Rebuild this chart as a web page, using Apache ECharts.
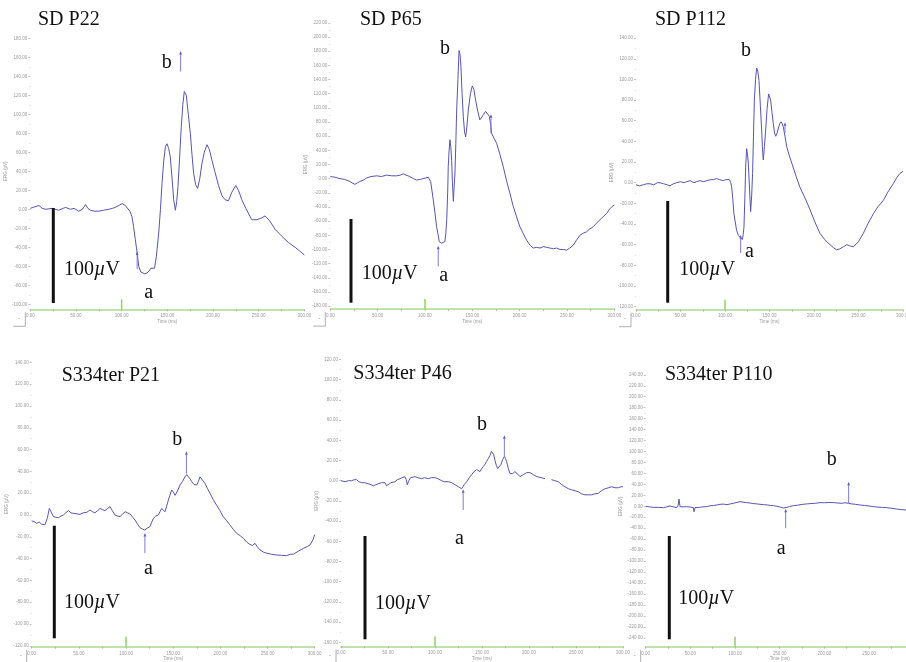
<!DOCTYPE html>
<html>
<head>
<meta charset="utf-8">
<script src="https://cdn.jsdelivr.net/npm/echarts@6/dist/echarts.min.js"></script>
<style>
  html, body { margin: 0; padding: 0; background: #fff; }
  #chart { width: 906px; height: 662px; }
</style>
</head>
<body>
<div id="chart"></div>
<script>
// ---------------- DATA ----------------
const panelTitles = ['SD P22', 'SD P65', 'SD P112', 'S334ter P21', 'S334ter P46', 'S334ter P110'];
const timeTicks = [0, 50, 100, 150, 200, 250, 300];   // ms
const yMins = [-100, -180, -120, -120, -160, -240];    // µV, lowest tick label
const yMaxs = [180, 220, 140, 140, 120, 240];          // µV, highest tick label
const yStep = 20;
const stimulusMs = 100;

// ERG traces: [time ms, amplitude µV]
const traceSDP22 = [[0,1],[3,2],[9.5,4],[13,1],[17,0],[24,1],[31,-1],[36,1],[38.6,2],[44,0],[48,1],[53,-2],[57,0],[60.5,5],[63,1],[66,-1],[70,-2],[75,-2],[80,-1],[86,0],[90,1],[93,2],[97,4],[100.5,6],[104,4],[106,2],[109,-2],[111.4,-8],[113,-18],[115,-32],[117,-46],[118.7,-60],[121,-66],[123,-68],[125.5,-68],[127.8,-67],[130,-65],[132,-62],[134,-63],[136,-62],[138,-50],[140.6,-25],[142.5,0],[144.2,27],[146,50],[147.9,66],[149.7,69],[151.5,64],[153.3,55],[155,35],[157,10],[158.8,-1],[160.3,8],[161.7,24],[163.5,55],[165.3,87],[167,110],[168.6,124],[170.8,120],[173,100],[175.2,80],[177,58],[178.8,38],[181,26],[183.2,22],[185.5,32],[187.9,48],[190.5,60],[193.4,68],[196,63],[198.8,52],[202,40],[206.1,25],[210,14],[213.4,10],[217,9],[220.7,18],[225,25],[228,20],[231.6,10],[236,1],[242.5,-11],[248,-11],[253.5,-9],[257,-7],[262,-12],[268,-21],[275,-28],[282.6,-35],[290,-40],[295,-44],[300,-48]];
const traceSDP65 = [[0,3],[5,2],[10.2,0],[15,-1],[20.8,-4],[23,-6],[26,-8],[28.5,-6],[31.3,-4],[35,-2],[38.4,1],[43,3],[49,4],[54,3],[59.5,5],[65,4],[70,4],[74,5],[77,7],[80,5],[84,3],[88,0],[91,-2],[95,-1],[98,0],[101,1],[103.5,2],[106,-4],[108.8,-30],[110.5,-48],[112.3,-68],[114,-80],[115.1,-89],[117.6,-91],[119.5,-90],[121,-89],[122,-78],[123,-58],[124,-20],[124.6,17],[125.5,40],[126.4,55],[127.3,45],[128.2,26],[129,-5],[130,-32],[130.8,-12],[131.7,8],[132.6,50],[133.5,97],[134.8,140],[136,181],[137,176],[138,158],[139.2,120],[140.5,88],[141.8,66],[143,59],[144.4,75],[145.8,97],[148,120],[150,131],[151.7,126],[153.5,111],[155.8,95],[158,83],[160,85],[162,91],[164,95],[166,93],[168,88],[169.5,75],[170.4,64],[173,57],[175.7,50],[179,35],[182.7,17],[186,-2],[189.8,-21],[193,-38],[196.8,-54],[200,-67],[204,-78],[207.4,-87],[211,-94],[214.4,-98],[218,-97],[221.5,-98],[225,-96],[228.5,-97],[232,-98],[235.6,-99],[239,-98],[242.6,-100],[246,-100],[249.6,-101],[253,-98],[256.7,-94],[260,-87],[263.7,-80],[267,-77],[270.8,-75],[274,-71],[277.8,-68],[281,-63],[284.9,-58],[288,-54],[292,-49],[295,-43],[297.2,-40],[300,-37]];
const traceSDP112 = [[0,-2],[4,-3],[8.2,-2],[12,-1],[15.7,-1],[20,-2],[24,0],[27,0],[31,-1],[35,-2],[38.2,-3],[42,-1],[45.7,0],[50,1],[54,0],[57,1],[61,2],[65,0],[68,1],[72,2],[76,1],[79.4,2],[84,3],[87,3],[90.6,4],[94,3],[98,2],[101,3],[104.9,3],[106.5,0],[107.5,-4],[108.7,-15],[110,-30],[111.5,-38],[113,-46],[115,-51],[116.9,-53],[119.5,-55],[120.5,-50],[121.3,-43],[122.3,-15],[123.2,15],[124.3,33],[125.2,28],[126.2,19],[127.5,-5],[128.8,-28],[130,-12],[131,9],[132,45],[133,80],[134.3,100],[135.6,111],[136.9,108],[138.2,99],[139.7,75],[141.2,51],[142,35],[143,22],[144.3,35],[145.7,51],[147.3,72],[149,86],[150.2,85],[151.3,80],[152.8,68],[154.3,57],[155.7,48],[157,45],[158.5,48],[160,53],[161.5,57],[163,59],[164.3,57],[165.5,54],[167.4,45],[169.3,35],[172,27],[175,19],[180,6],[184,-4],[190,-15],[195.5,-26],[201,-38],[206.7,-49],[212,-55],[218,-60],[222,-63],[225.5,-65],[229,-64],[233,-62],[236.7,-60],[240,-61],[244.2,-62],[250,-57],[255.4,-49],[261,-39],[266.7,-30],[272,-23],[278,-17],[283,-9],[289,-1],[293,5],[296.6,9],[300,11]];
const traceS334P21 = [[0,-5.5],[2.5,-6],[5.3,-7.6],[8,-6.5],[10.6,-8.5],[14,-9],[16.5,-3],[18.7,6],[20.5,3],[23,-1.5],[25.5,-2],[28.3,-2.5],[31,-1],[33.6,0],[36,2],[38.9,4],[41.5,2],[44.2,1.5],[48,1],[51.2,0.6],[54.5,2],[58.3,2.4],[61.8,4.6],[64.5,3],[67,2],[70,4],[72.4,6],[75,5],[77.7,4],[80.5,6],[83,7.6],[85.5,4],[88.3,0],[91,-1],[93.6,-1.5],[96.5,1],[99,3],[101.5,2],[104,1],[107,-2],[109.5,-4.6],[112,-8],[114.8,-11.6],[117.5,-13],[120,-13.8],[122.5,-12],[125.4,-10.7],[127,-7],[129,-3],[131.5,-1],[134.3,0],[136,3],[137.8,6],[139.5,5],[141.3,3],[143,8],[144.9,13.8],[146.5,18],[148.4,23],[150.2,21],[152,18],[154.5,22],[157.2,27.5],[160,31],[162.5,35],[164.3,37],[166,36.7],[168,33],[169.6,30.6],[172,28],[175,27.5],[176.8,31],[178.4,35],[181,32],[183.7,29],[186.5,24],[189,20],[192.5,14],[196,9],[199.5,4],[203,-1.5],[206.5,-5],[210,-9],[213.5,-13],[217.3,-16.8],[221,-19],[224.4,-21.4],[228,-25],[231.4,-27],[234,-28],[236.7,-26],[239,-29],[242,-32],[245.5,-34],[249,-35],[254,-36],[259.7,-36.7],[265,-37],[270.3,-37.3],[274,-36],[277.4,-36],[283,-33],[288,-30.6],[292,-29],[295,-27.5],[298,-23],[300,-18]];
const traceS334P46 = [[0,0],[2,0],[4.3,-1],[8,0],[11.3,0],[14,1],[16.7,1],[19,-1],[22,-2],[25,-2],[29,-3],[32,-4],[34.4,-5],[37,-4],[39.7,-3],[43,-2],[46.8,-2],[48.5,-5],[50.4,-4],[53,-2],[57.4,-1],[60,1],[62.8,2],[65,3],[68,4],[69.5,1],[70.5,-4],[71.6,-1],[74,3],[78.7,4],[82,3],[85.8,2],[89,3],[92.9,2],[96,3],[100,3],[103,2],[107,0],[110,-1],[114.2,-1],[118,-2],[121.3,-4],[125,-6],[128.4,-8],[131,-4],[133.7,-1],[136.5,3],[139,6],[141.5,9],[144.3,11],[146,10],[147.9,9],[149.7,12],[151.4,14],[153,16],[154.9,19],[156.8,22],[158.5,25],[160,29],[161,30],[162.4,26],[163.8,20],[165.3,15],[166.7,12],[168.5,13],[170.2,16],[172,21],[173.8,24],[175,22],[176.2,19],[178,12],[179.8,7],[182.5,7],[185,9],[187.5,7],[190.4,4],[194,6],[197.5,8],[201,8],[204.6,6],[208.5,4],[213,3],[217,2],[219.5,null],[224,1],[227.5,0],[231.2,-1],[234.8,-4],[238.3,-6],[242,-8],[245.4,-9],[249,-10],[252.5,-11],[256,-13],[259.6,-14],[263,-14],[266.7,-14],[270,-13],[273.8,-12.5],[277,-10],[280.9,-8],[284.5,-7],[288,-6],[291.5,-7],[295,-7],[298,-6],[300,-6]];
const traceS334P110 = [[0,0],[4,-1],[8.6,-2],[14,-2],[19.8,-2.5],[23.5,-1],[27.2,0.6],[31,-1],[34.7,-2.5],[36.3,2],[37.3,13],[38.4,-0.6],[42,-1],[45.9,-0.6],[50,-1.5],[53.4,-2.5],[54.1,-10],[55.2,-2.5],[60,-2],[64,-1],[68.3,-0.6],[72,1],[76,1.5],[80,2.5],[83.2,3.6],[87,4],[91,3],[95,4.5],[98.1,5.5],[102,7],[105.6,8.5],[109,7.5],[113,6.7],[117,6],[120,5],[124,4.5],[128,3.6],[132,3],[136,2.5],[140,1.5],[143,1.2],[147,0],[151,-1.5],[154,-3],[156,-3.6],[158,-2],[161,-0.5],[165.3,1.2],[170,2],[175,3.5],[180.2,4.3],[185,5],[190,5.5],[195.1,6.7],[200,6.5],[205,7],[210,6.7],[215,6],[220,5.5],[223,6.5],[226.9,5.5],[230,4.5],[235,3.5],[240,2.4],[245,1.5],[250,0.5],[254.9,-0.6],[260,-1.5],[265,-2],[269.8,-2.5],[275,-3.5],[281,-5],[286,-6],[291.4,-6.7],[296,-7],[300,-7.5]];

// a- and b-wave cursor marks: [time ms, top µV, bottom µV]
const aMarkers = [[117,-46,-63],[114,-97,-124],[117.6,-52,-68],[120,-18,-35],[130,-10,-29],[156.7,-7,-40]];
const bMarkers = [[164.6,165,145],[169.7,89,64],[167.4,57,48],[164,57,38],[173.8,43.5,24],[227.2,42,5.5]];

const traces = [traceSDP22, traceSDP65, traceSDP112, traceS334P21, traceS334P46, traceS334P110];

// ---------------- LAYOUT (pixels) ----------------
const layout = [
  { grid: [30.3, 38.3, 274, 266],   axisOff: 5, title: [38, 26],    b: [161.7, 69.3], a: [144.3, 299.3], uv: [64, 276.7],   bar: [53.3, 208, 303] },
  { grid: [330.3, 22.9, 284, 283.2], axisOff: 3, title: [360, 26.7], b: [440, 55],     a: [439.3, 282.7], uv: [361.7, 280],  bar: [351, 219, 302.7] },
  { grid: [636, 38.1, 267, 268.6],  axisOff: 3, title: [655, 26],   b: [741, 57.3],   a: [745, 258.3],   uv: [679.3, 276.7], bar: [667.7, 201, 302.7] },
  { grid: [31.7, 362.4, 283, 283.4], axisOff: 1, title: [61.7, 382.3], b: [172.3, 446.7], a: [144, 575], uv: [64, 609],     bar: [54.3, 525.7, 638.3] },
  { grid: [341, 359.5, 282, 282.8], axisOff: 4, title: [353.3, 380], b: [477, 431],   a: [455, 545],     uv: [375, 610],    bar: [365, 536, 639.3] },
  { grid: [645.7, 374.8, 268, 263], axisOff: 9, title: [665, 381.7], b: [826.7, 466.7], a: [776.7, 555], uv: [678.3, 605.7], bar: [669.3, 536, 639.3] }
];

const TRACE = '#5656b2';
const CURSOR = '#7c7cd2';
const GREEN = '#a9dc8e';
const TICKGRAY = '#9a9a9a';
const SERIF = '"Liberation Serif", "DejaVu Serif", serif';

const grids = [], xAxes = [], yAxes = [], series = [], graphics = [];

layout.forEach((L, i) => {
  const [gl, gt, gw, gh] = L.grid;
  grids.push({ left: gl, top: gt, width: gw, height: gh, containLabel: false, outerBoundsMode: 'none' });

  xAxes.push({
    gridIndex: i, type: 'value', min: timeTicks[0], max: timeTicks[timeTicks.length - 1],
    interval: timeTicks[1] - timeTicks[0], offset: L.axisOff,
    name: 'Time (ms)', nameLocation: 'middle', nameGap: 9,
    nameTextStyle: { fontSize: 4.5, color: TICKGRAY, fontFamily: 'Liberation Sans' },
    axisLine: { show: true, onZero: false, lineStyle: { color: GREEN, width: 1.5 } },
    axisTick: { show: true, length: 2, lineStyle: { color: TICKGRAY, width: 0.6 } },
    minorTick: { show: true, splitNumber: 2, length: 2, lineStyle: { color: TICKGRAY, width: 0.6 } },
    axisLabel: { fontSize: 4.5, color: TICKGRAY, margin: 4, fontFamily: 'Liberation Sans', hideOverlap: false,
                 formatter: v => v.toFixed(2) },
    splitLine: { show: false }
  });

  yAxes.push({
    gridIndex: i, type: 'value', min: yMins[i], max: yMaxs[i], interval: yStep,
    name: 'ERG (µV)', nameLocation: 'middle', nameGap: 18, nameRotate: 90,
    nameTextStyle: { fontSize: 4.5, color: TICKGRAY, fontFamily: 'Liberation Sans' },
    axisLine: { show: false },
    axisTick: { show: true, length: 2, lineStyle: { color: TICKGRAY, width: 0.6 } },
    minorTick: { show: true, splitNumber: 2, length: 1, lineStyle: { color: '#c4c4c4', width: 0.6 } },
    axisLabel: { fontSize: 4.5, color: TICKGRAY, margin: 3, fontFamily: 'Liberation Sans', hideOverlap: false,
                 formatter: v => v.toFixed(2) },
    splitLine: { show: false }
  });

  series.push({
    type: 'line', xAxisIndex: i, yAxisIndex: i, data: traces[i],
    showSymbol: false, symbol: 'none', connectNulls: false, animation: false,
    lineStyle: { color: TRACE, width: 1 }, silent: true, z: 3
  });

  const cursorRender = (params, api) => {
    const p1 = api.coord([api.value(0), api.value(1)]);
    const p2 = api.coord([api.value(0), api.value(2)]);
    return { type: 'group', children: [
      { type: 'line', shape: { x1: p1[0], y1: p1[1], x2: p2[0], y2: p2[1] }, style: { stroke: CURSOR, lineWidth: 1 } },
      { type: 'polygon', shape: { points: [[p1[0], p1[1] - 1.5], [p1[0] - 1.4, p1[1] + 2], [p1[0] + 1.4, p1[1] + 2]] },
        style: { fill: '#6262c4' } }
    ]};
  };
  series.push({
    type: 'custom', xAxisIndex: i, yAxisIndex: i, clip: false, silent: true, animation: false, z: 4,
    dimensions: ['t', 'top', 'bottom'], encode: { x: 0, y: [1, 2] },
    data: [aMarkers[i], bMarkers[i]], renderItem: cursorRender
  });

  const off = L.axisOff;
  series.push({
    type: 'custom', xAxisIndex: i, yAxisIndex: i, clip: false, silent: true, animation: false, z: 5,
    encode: { x: 0, y: 1 }, data: [[stimulusMs, yMins[i]]],
    renderItem: (params, api) => {
      const p = api.coord([api.value(0), api.value(1)]);
      return { type: 'line', shape: { x1: p[0], y1: p[1] + off, x2: p[0], y2: p[1] + off - 10 },
               style: { stroke: '#8fd36a', lineWidth: 1.5 } };
    }
  });

  // annotations
  const txt = (pos, text, extra) => Object.assign({
    type: 'text', x: pos[0], y: pos[1] - 6.5, silent: true, z: 10,
    style: Object.assign({ text: text, fontFamily: SERIF, fontSize: 20, fill: '#111',
                           verticalAlign: 'middle', textVerticalAlign: 'middle' }, extra || {})
  });
  graphics.push(txt(L.title, panelTitles[i]));
  graphics.push(txt(L.b, 'b'));
  graphics.push(txt(L.a, 'a'));
  graphics.push(txt(L.uv, '100{i|µ}V', { rich: { i: { fontStyle: 'italic', fontFamily: SERIF, fontSize: 20, fill: '#111' } } }));
  graphics.push({ type: 'rect', silent: true, z: 10,
    shape: { x: L.bar[0] - 1.5, y: L.bar[1], width: 3, height: L.bar[2] - L.bar[1] }, style: { fill: '#111' } });

  // little corner control box under the y axis
  const ox = gl, oy = gt + gh + off;
  graphics.push({ type: 'polyline', silent: true, shape: { points: [[ox - 5, oy + 3], [ox - 5, oy + 17], [ox - 17, oy + 17]] },
                  style: { stroke: '#b0b0b0', lineWidth: 1, fill: null } });
  graphics.push({ type: 'text', silent: true, x: ox - 11, y: oy + 9,
                  style: { text: '-', fontSize: 6, fill: '#888', align: 'center', verticalAlign: 'middle', textVerticalAlign: 'middle' } });
});

const chart = echarts.init(document.getElementById('chart'), null, { renderer: 'canvas' });
chart.setOption({
  backgroundColor: '#ffffff',
  animation: false,
  textStyle: { fontFamily: 'Liberation Sans' },
  grid: grids,
  xAxis: xAxes,
  yAxis: yAxes,
  series: series,
  graphic: graphics
});
</script>
</body>
</html>
